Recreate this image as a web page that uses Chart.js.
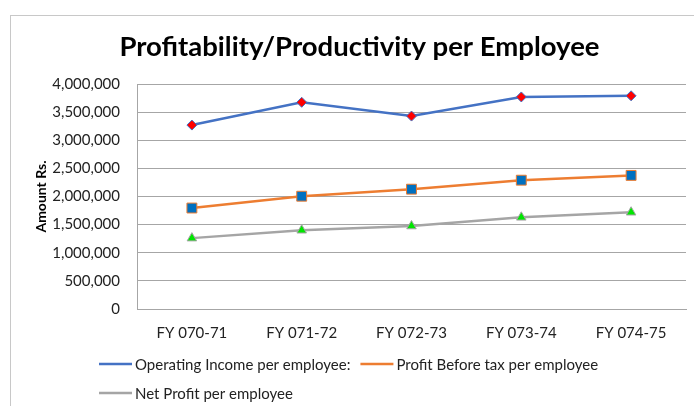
<!DOCTYPE html>
<html>
<head>
<meta charset="utf-8">
<script src="https://cdn.jsdelivr.net/npm/chart.js@4.4.0/dist/chart.umd.min.js"></script>
<style>
  html, body { margin: 0; padding: 0; background: #fff; }
  #wrap { width: 694px; height: 406px; }
</style>
</head>
<body>
<div id="wrap"><canvas id="chart" width="694" height="406"></canvas></div>
<script>
const categories = ['FY 070-71', 'FY 071-72', 'FY 072-73', 'FY 073-74', 'FY 074-75'];
const seriesNames = ['Operating Income per employee:', 'Profit Before tax per employee', 'Net Profit per employee'];
const operatingIncome = [3270000, 3675000, 3430000, 3770000, 3790000];
const profitBeforeTax = [1795000, 2005000, 2130000, 2290000, 2375000];
const netProfit = [1260000, 1400000, 1475000, 1630000, 1720000];
const yMax = 4000000;
const yStep = 500000;

const FONT = 'Lato, "Open Sans", sans-serif';

// light frame round the chart, like the spreadsheet export
const framePlugin = {
  id: 'frame',
  beforeDraw(chart) {
    const ctx = chart.ctx;
    ctx.save();
    ctx.strokeStyle = '#c8c8c8';
    ctx.lineWidth = 1;
    ctx.strokeRect(10.5, 15.5, 720, 420);
    ctx.restore();
  }
};

// legend: line + marker, then label, wrapping into rows
const lineLegend = {
  id: 'lineLegend',
  afterDraw(chart) {
    const ctx = chart.ctx;
    ctx.save();
    ctx.font = '15px ' + FONT;
    ctx.textBaseline = 'middle';
    const sw = 33, gap = 3, itemGap = 10;
    const items = chart.data.datasets.map(ds => ({ ds, w: sw + gap + ctx.measureText(ds.label).width }));
    const maxW = 560;
    const rows = [[]];
    let rowW = 0;
    items.forEach(it => {
      if (rowW && rowW + itemGap + it.w > maxW) { rows.push([]); rowW = 0; }
      rows[rows.length - 1].push(it);
      rowW += (rowW ? itemGap : 0) + it.w;
    });
    const widths = rows.map(r => r.reduce((a, it, i) => a + it.w + (i ? itemGap : 0), 0));
    const left = Math.round((694 + 4 - Math.max(...widths)) / 2);
    rows.forEach((r, ri) => {
      let x = left;
      const y = 364 + ri * 29;
      r.forEach(it => {
        const ds = it.ds;
        ctx.strokeStyle = ds.borderColor;
        ctx.lineWidth = ds.borderWidth;
        ctx.beginPath();
        ctx.moveTo(x, y);
        ctx.lineTo(x + sw, y);
        ctx.stroke();
        ctx.fillStyle = ds.pointBackgroundColor;
        ctx.strokeStyle = ds.pointBorderColor;
        ctx.lineWidth = ds.pointBorderWidth;
        Chart.helpers.drawPoint(ctx, { pointStyle: ds.pointStyle, rotation: 0, borderWidth: ds.pointBorderWidth }, x + sw / 2, y);
        ctx.fillStyle = '#222';
        ctx.fillText(ds.label, x + sw + gap, y + 1);
        x += it.w + itemGap;
      });
    });
    ctx.restore();
  }
};

new Chart(document.getElementById('chart'), {
  type: 'line',
  data: {
    labels: categories,
    datasets: [
      {
        label: seriesNames[0],
        data: operatingIncome,
        borderColor: '#4472C4',
        borderWidth: 2.5,
        pointStyle: 'rectRot',
        pointRadius: 5,
        pointBackgroundColor: '#FF0000',
        pointBorderColor: '#4472C4',
        pointBorderWidth: 1
      },
      {
        label: seriesNames[1],
        data: profitBeforeTax,
        borderColor: '#ED7D31',
        borderWidth: 2.5,
        pointStyle: 'rect',
        pointRadius: 7,
        pointBackgroundColor: '#0070C0',
        pointBorderColor: '#ED7D31',
        pointBorderWidth: 1
      },
      {
        label: seriesNames[2],
        data: netProfit,
        borderColor: '#A5A5A5',
        borderWidth: 2.5,
        pointStyle: 'triangle',
        pointRadius: 5.5,
        pointBackgroundColor: '#00E600',
        pointBorderColor: '#A5A5A5',
        pointBorderWidth: 1
      }
    ]
  },
  options: {
    responsive: false,
    animation: false,
    layout: { padding: { left: 27, right: 2, top: 15, bottom: 0 } },
    plugins: {
      legend: { display: false },
      tooltip: { enabled: false },
      title: {
        display: true,
        text: 'Profitability/Productivity per Employee',
        color: '#000',
        font: { family: FONT, size: 27.5, weight: 'bold', lineHeight: 1.2 },
        padding: { top: 16, bottom: 20 }
      }
    },
    scales: {
      x: {
        offset: true,
        grid: { display: false, offset: true },
        border: { display: true, color: '#a6a6a6', width: 1 },
        ticks: { color: '#222', font: { family: FONT, size: 15 }, padding: 7, maxRotation: 0 },
        afterFit(scale) { scale.height = 97; }
      },
      y: {
        min: 0,
        max: yMax,
        grid: { color: '#a6a6a6', lineWidth: 1, drawTicks: false },
        border: { display: true, color: '#a6a6a6', width: 1 },
        ticks: {
          stepSize: yStep,
          color: '#222',
          padding: 17,
          font: { family: FONT, size: 15 },
          callback: v => v.toLocaleString('en-US')
        },
        title: {
          display: true,
          text: 'Amount Rs.',
          color: '#000',
          font: { family: FONT, size: 14, weight: 'bold' },
          padding: { top: 6, bottom: 0 }
        },
        afterFit(scale) { scale.width = 110; }
      }
    }
  },
  plugins: [framePlugin, lineLegend]
});
</script>
</body>
</html>
